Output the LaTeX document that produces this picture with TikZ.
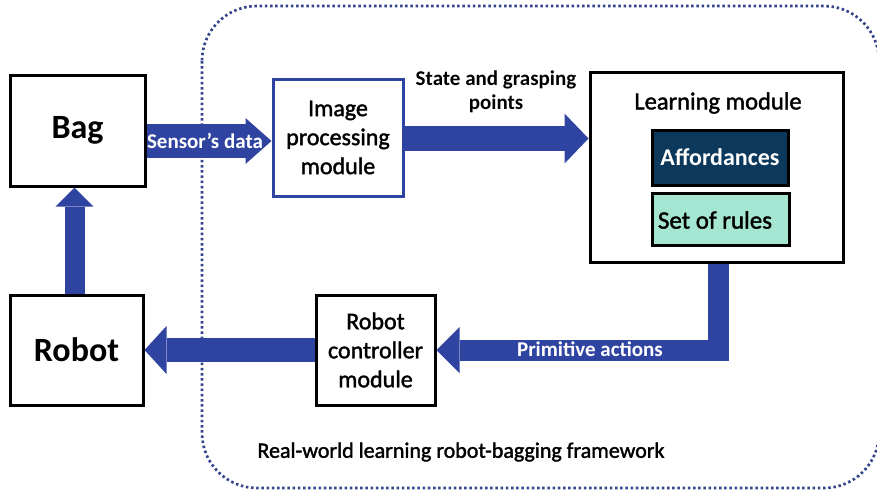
\documentclass[tikz,border=0pt]{standalone}
\usepackage{fontspec}
\setmainfont{Carlito}
\newfontfamily\semifont{Carlito}[FakeBold=1.6]
\usetikzlibrary{arrows.meta,calc}

\definecolor{flowblue}{RGB}{47,67,160}
\definecolor{framedot}{RGB}{52,68,138}
\definecolor{navy}{RGB}{12,56,92}
\definecolor{mint}{RGB}{164,230,210}

\tikzset{
  box/.style={draw=black, line width=3pt, fill=white, inner sep=0pt, align=center},
  bluebox/.style={box, draw=flowblue},
  big/.style={font=\fontsize{34}{40}\selectfont\bfseries},
  body/.style={font=\fontsize{24}{29}\semifont\selectfont},
  lbl/.style={font=\fontsize{21}{24}\selectfont\bfseries, align=center},
  flow/.style={draw=flowblue, line join=miter},
  framedots/.style={draw=framedot, line width=2.7pt,
    dash pattern=on 2.5pt off 2.7pt, rounded corners=55pt}
}

\begin{document}
\begin{tikzpicture}[x=1pt, y=-1pt]
\useasboundingbox (0,0) rectangle (877,496);

% dotted framework boundary
\draw[framedots] (202,6) rectangle (879,488);

% blocks
\node[box, big, minimum width=135pt, minimum height=111pt] (bag) at (77.5,130.5) {Bag};
\node[box, big, minimum width=133pt, minimum height=110pt] (robot) at (76.5,350) {Robot};
\node[bluebox, body, minimum width=130pt, minimum height=117pt] (img) at (338,137.5) {Image\\processing\\module};
\node[box, body, minimum width=119pt, minimum height=110pt] (ctrl) at (375.5,350) {Robot\\controller\\module};
\node[box, minimum width=253pt, minimum height=190pt] (learn) at (716.5,167) {};
\node[font=\fontsize{24.5}{29}\semifont\selectfont] (learntitle) at (718,103) {Learning module};
\node[box, fill=navy, text=white, font=\fontsize{24}{28}\selectfont\bfseries,
      minimum width=136pt, minimum height=55pt] (aff) at (720,157.5) {Affordances};
\node[box, fill=mint, minimum width=137pt, minimum height=52pt] (rules) at (720.5,219) {};
\node[font=\fontsize{25}{28}\semifont\selectfont] (rulestext) at (715,220) {Set of rules};

% block arrows
\draw[flow, line width=34pt, -{Triangle[length=26pt, width=46pt, line width=0pt]}]
  ([yshift=-10.5pt]bag.east) -- ([yshift=-3.5pt]img.west)
  node[midway, xshift=-4pt, text=white, lbl] (sensor) {Sensor’s data};
\draw[flow, line width=25pt, -{Triangle[length=24pt, width=50pt, line width=0pt]}]
  ([yshift=-1pt]img.east) -- ([yshift=-1pt]img.east -| learn.west);
\node[lbl, text=black] (statelbl) at (496,92) {State and grasping\\points};
\draw[flow, line width=21pt, -{Triangle[length=23pt, width=46pt, line width=0pt]}]
  ([xshift=1.5pt]learn.south) |- (ctrl.east);
\node[lbl, text=white] (primlbl) at (590,349) {Primitive actions};
\draw[flow, line width=24pt, -{Triangle[length=22pt, width=48pt, line width=0pt]}]
  (ctrl.west) -- (robot.east);
\draw[flow, line width=20pt, -{Triangle[length=19pt, width=38pt, line width=0pt]}]
  ([xshift=-2pt]robot.north) -- ([xshift=-2pt]robot.north |- bag.south);

\node[font=\fontsize{22}{26}\semifont\selectfont] (title) at (461,452) {Real-world learning robot-bagging framework};
\end{tikzpicture}
\end{document}
